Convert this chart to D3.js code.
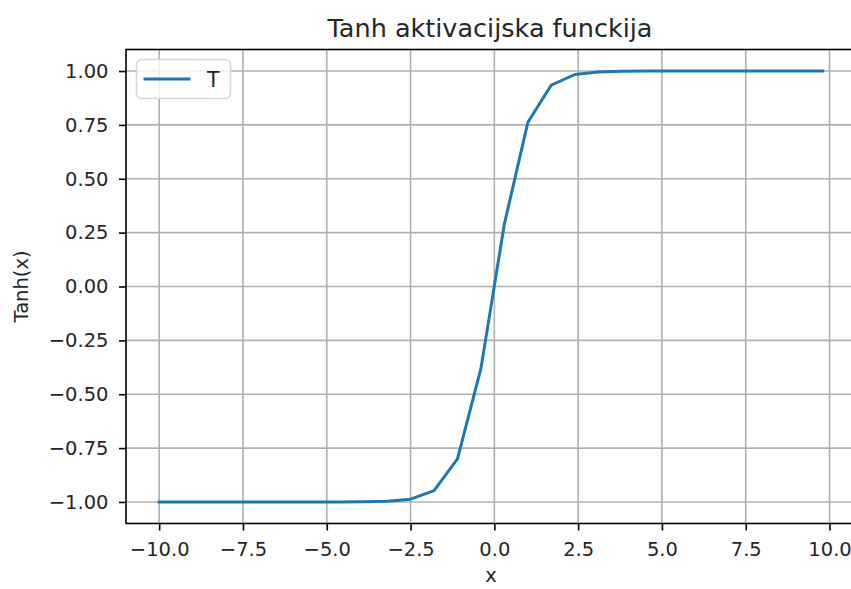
<!DOCTYPE html>
<html>
<head>
<meta charset="utf-8">
<script src="https://cdn.jsdelivr.net/npm/d3@7"></script>
<style>
  html, body { margin: 0; padding: 0; background: #fff; }
  svg { display: block; font-family: "DejaVu Sans", sans-serif; }
</style>
</head>
<body>
<svg id="chart" width="851" height="589"></svg>
<script>
// Data
const xValues = [-10.0, -9.5, -8.8, -8.1, -7.4, -6.7, -6.0, -5.3, -4.6, -3.9, -3.2, -2.5, -1.8, -1.1, -0.4, 0.3, 1.0, 1.7, 2.4, 3.1, 3.8, 4.5, 5.2, 5.9, 6.6, 7.3, 8.0, 8.7, 9.4, 9.8];
const yValues = [-1.000, -1.000, -1.000, -1.000, -1.000, -1.000, -1.000, -1.000, -1.000, -0.999, -0.997, -0.987, -0.947, -0.800, -0.380, 0.291, 0.762, 0.935, 0.984, 0.996, 0.999, 1.000, 1.000, 1.000, 1.000, 1.000, 1.000, 1.000, 1.000, 1.000];
const xTicks = [-10.0, -7.5, -5.0, -2.5, 0.0, 2.5, 5.0, 7.5, 10.0];
const yTicks = [-1.00, -0.75, -0.50, -0.25, 0.00, 0.25, 0.50, 0.75, 1.00];
const titleText = "Tanh aktivacijska funckija";
const xLabel = "x";
const yLabel = "Tanh(x)";
const seriesName = "T";

const svg = d3.select("#chart");
const plot = { left: 126, right: 856, top: 49.5, bottom: 523.5 };

const x = d3.scaleLinear().domain([-10.99, 10.79]).range([plot.left, plot.right]);
const y = d3.scaleLinear().domain([-1.1, 1.1]).range([plot.bottom, plot.top]);

const fmtX = d => (d < 0 ? "\u2212" : "") + Math.abs(d).toFixed(1);
const fmtY = d => (d < 0 ? "\u2212" : "") + Math.abs(d).toFixed(2);

// grid
const grid = svg.append("g");
grid.selectAll("line.gx").data(xTicks).join("line")
  .attr("x1", d => x(d)).attr("x2", d => x(d))
  .attr("y1", plot.top).attr("y2", plot.bottom)
  .attr("stroke", "#b0b0b0").attr("stroke-width", 1.6);
grid.selectAll("line.gy").data(yTicks).join("line")
  .attr("y1", d => y(d)).attr("y2", d => y(d))
  .attr("x1", plot.left).attr("x2", plot.right)
  .attr("stroke", "#b0b0b0").attr("stroke-width", 1.6);

// line
const line = d3.line().x((d, i) => x(xValues[i])).y(d => y(d));
svg.append("path").datum(yValues)
  .attr("d", line)
  .attr("fill", "none")
  .attr("stroke", "#1f77b4")
  .attr("stroke-width", 3)
  .attr("stroke-linecap", "square")
  .attr("stroke-linejoin", "round");

// axes
const xAxis = d3.axisBottom(x).tickValues(xTicks).tickFormat(fmtX).tickSize(7).tickPadding(12);
const yAxis = d3.axisLeft(y).tickValues(yTicks).tickFormat(fmtY).tickSize(7).tickPadding(10.5);

const gx = svg.append("g").attr("transform", `translate(0,${plot.bottom})`).call(xAxis);
const gy = svg.append("g").attr("transform", `translate(${plot.left},0)`).call(yAxis);
[gx, gy].forEach(g => {
  g.select(".domain").remove();
  g.selectAll(".tick line").attr("stroke", "#000").attr("stroke-width", 1.6);
  g.selectAll(".tick text").attr("fill", "#262626").style("font-size", "19.5px")
    .style("font-family", "'DejaVu Sans', sans-serif");
});

// spines
svg.append("rect")
  .attr("x", plot.left).attr("y", plot.top)
  .attr("width", plot.right - plot.left).attr("height", plot.bottom - plot.top)
  .attr("fill", "none").attr("stroke", "#000").attr("stroke-width", 1.6);

// title and labels
svg.append("text").attr("x", 490).attr("y", 37)
  .attr("text-anchor", "middle").style("font-size", "25.5px").attr("fill", "#262626")
  .text(titleText);
svg.append("text").attr("x", 491).attr("y", 582)
  .attr("text-anchor", "middle").style("font-size", "19.5px").attr("fill", "#262626")
  .text(xLabel);
svg.append("text").attr("transform", `translate(28,${y(0)}) rotate(-90)`)
  .attr("text-anchor", "middle").style("font-size", "19.5px").attr("fill", "#262626")
  .text(yLabel);

// legend
const lg = svg.append("g");
lg.append("rect").attr("x", 136.5).attr("y", 59.5).attr("width", 94).attr("height", 39)
  .attr("rx", 5).attr("fill", "rgba(255,255,255,0.8)")
  .attr("stroke", "#d6d6d6").attr("stroke-width", 1.6);
lg.append("line").attr("x1", 143.5).attr("x2", 190.5).attr("y1", 79).attr("y2", 79)
  .attr("stroke", "#1f77b4").attr("stroke-width", 3);
lg.append("text").attr("x", 207).attr("y", 87).style("font-size", "20.5px").attr("fill", "#262626")
  .text(seriesName);
</script>
</body>
</html>
